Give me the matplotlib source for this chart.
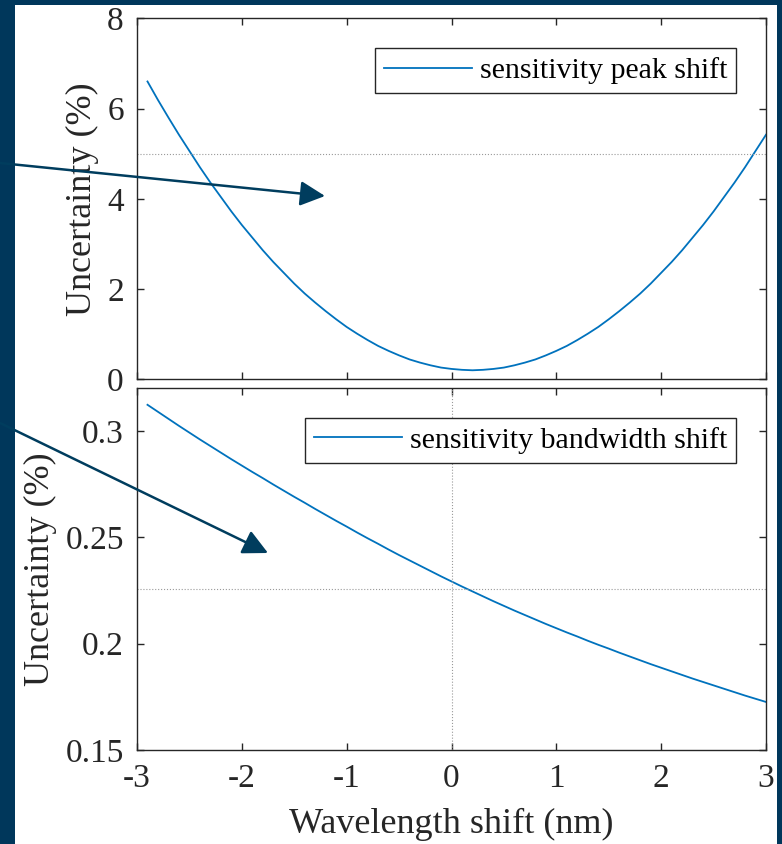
import numpy as np
import matplotlib.pyplot as plt
from matplotlib.patches import Rectangle, FancyArrowPatch

plt.rcParams['font.family'] = ['Liberation Serif', 'DejaVu Serif']
plt.rcParams['axes.unicode_minus'] = False

# wavelength shift (nm), -2.9 .. 3.0
shift = [-2.9, -2.8, -2.7, -2.6, -2.5, -2.4, -2.3, -2.2, -2.1, -2.0,
         -1.9, -1.8, -1.7, -1.6, -1.5, -1.4, -1.3, -1.2, -1.1, -1.0,
         -0.9, -0.8, -0.7, -0.6, -0.5, -0.4, -0.3, -0.2, -0.1, 0.0,
         0.1, 0.2, 0.3, 0.4, 0.5, 0.6, 0.7, 0.8, 0.9, 1.0,
         1.1, 1.2, 1.3, 1.4, 1.5, 1.6, 1.7, 1.8, 1.9, 2.0,
         2.1, 2.2, 2.3, 2.4, 2.5, 2.6, 2.7, 2.8, 2.9, 3.0]

# uncertainty (%) - sensitivity peak shift
peak_unc = [6.60, 6.19, 5.80, 5.42, 5.06, 4.70, 4.36, 4.04, 3.72, 3.42,
            3.14, 2.86, 2.60, 2.36, 2.12, 1.90, 1.70, 1.51, 1.33, 1.16,
            1.01, 0.87, 0.74, 0.63, 0.53, 0.44, 0.37, 0.31, 0.26, 0.23,
            0.21, 0.20, 0.21, 0.23, 0.26, 0.31, 0.37, 0.44, 0.53, 0.63,
            0.74, 0.87, 1.01, 1.16, 1.33, 1.51, 1.70, 1.90, 2.12, 2.36,
            2.60, 2.86, 3.14, 3.42, 3.72, 4.04, 4.36, 4.70, 5.06, 5.42]

# uncertainty (%) - sensitivity bandwidth shift
bw_unc = [0.3124, 0.3091, 0.3058, 0.3025, 0.2993, 0.2961, 0.2930, 0.2899, 0.2868, 0.2838,
          0.2808, 0.2779, 0.2749, 0.2720, 0.2691, 0.2663, 0.2634, 0.2606, 0.2578, 0.2551,
          0.2523, 0.2496, 0.2470, 0.2443, 0.2417, 0.2392, 0.2367, 0.2342, 0.2317, 0.2293,
          0.2269, 0.2246, 0.2223, 0.2200, 0.2178, 0.2156, 0.2135, 0.2114, 0.2093, 0.2073,
          0.2053, 0.2034, 0.2014, 0.1995, 0.1977, 0.1958, 0.1940, 0.1922, 0.1904, 0.1887,
          0.1870, 0.1853, 0.1836, 0.1820, 0.1804, 0.1788, 0.1772, 0.1756, 0.1741, 0.1726]

peak_ref = 5.0
bw_ref = 0.2259

line_col = '#0072BD'
navy = '#00375B'
ink = '#262626'
W, H = 782, 844

fig = plt.figure(figsize=(W / 100, H / 100), dpi=100, facecolor=navy)
fig.add_artist(Rectangle((15 / W, 0), (777 - 15) / W, (H - 5) / H,
                         transform=fig.transFigure, facecolor='white',
                         edgecolor='none', zorder=0))

left = 137 / W
width = (766 - 137) / W
ax1 = fig.add_axes([left, 1 - 379.3 / H, width, (379.3 - 18.3) / H])
ax2 = fig.add_axes([left, 1 - 750 / H, width, (750 - 388) / H])

tick_fs = 24
leg_fs = 21.5
label_fs = 26

for ax in (ax1, ax2):
    ax.set_xlim(-3, 3)
    ax.set_xticks([-3, -2, -1, 0, 1, 2, 3])
    ax.tick_params(direction='in', length=5, width=1, colors=ink,
                   labelsize=tick_fs, top=True, right=True)
    ax.tick_params(axis='y', pad=9.5)
    ax.tick_params(axis='x', pad=10)
    for s in ax.spines.values():
        s.set_color(ink)
        s.set_linewidth(1)

# top panel
ax1.plot(shift, peak_unc, color=line_col, lw=1.3, label='sensitivity peak shift')
ax1.axhline(peak_ref, color='#9a9a9a', lw=0.8, ls=':')
ax1.set_ylim(0, 8)
ax1.set_yticks([0, 2, 4, 6, 8])
ax1.set_xticklabels([])
ax1.set_ylabel('Uncertainty (%)', fontsize=label_fs, color=ink, labelpad=6)

# bottom panel
ax2.plot(shift, bw_unc, color=line_col, lw=1.3, label='sensitivity bandwidth shift')
ax2.axhline(bw_ref, color='#9a9a9a', lw=0.8, ls=':')
ax2.axvline(0, color='#9a9a9a', lw=0.8, ls=':')
ax2.set_ylim(0.15, 0.3203)
ax2.set_yticks([0.15, 0.2, 0.25, 0.3])
ax2.set_yticklabels(['0.15', '0.2', '0.25', '0.3'])
ax2.set_xticklabels(['-3', '-2', '-1', '0', '1', '2', '3'])
ax2.set_xlabel('Wavelength shift (nm)', fontsize=label_fs, color=ink, labelpad=10)
ax2.set_ylabel('Uncertainty (%)', fontsize=label_fs, color=ink, labelpad=6)

for ax in (ax1, ax2):
    leg = ax.legend(loc='upper right', fontsize=leg_fs, fancybox=False,
                    handlelength=2.95, handletextpad=0.27, borderpad=0.3,
                    borderaxespad=1.0, framealpha=1)
    leg.get_frame().set_edgecolor(ink)
    leg.get_frame().set_linewidth(1)

# navy arrows pointing into the panels
for (x0, y0), (x1, y1) in [((0, 163), (325, 196)), ((0, 423), (268, 553))]:
    arr = FancyArrowPatch((x0 / W, 1 - y0 / H), (x1 / W, 1 - y1 / H),
                          transform=fig.transFigure, color='#003d5e',
                          arrowstyle='-|>,head_length=0.8,head_width=0.4',
                          mutation_scale=19, lw=1.8, zorder=10,
                          shrinkA=0, shrinkB=0)
    fig.add_artist(arr)

fig.savefig('out.png', dpi=100, facecolor=navy)
